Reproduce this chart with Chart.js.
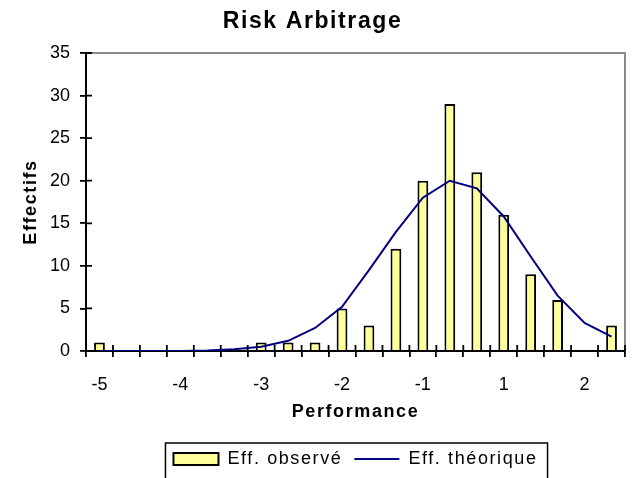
<!DOCTYPE html>
<html>
<head>
<meta charset="utf-8">
<script src="https://cdn.jsdelivr.net/npm/chart.js@4.4.1/dist/chart.umd.min.js"></script>
<style>
  html, body { margin: 0; padding: 0; background: #fff; }
  #wrap { width: 635px; height: 478px; }
</style>
</head>
<body>
<div id="wrap"><canvas id="chart"></canvas></div>
<script>
// Histogram of "Risk Arbitrage" performances: observed counts (bars) vs
// fitted normal counts (line). Only every third bin carries a label.
const categories = ['-5', '', '', '-4', '', '', '-3', '', '', '-2', '', '', '-1', '', '', '1', '', '', '2', ''];
const observed = [1, 0, 0, 0, 0, 0, 1, 1, 1, 5, 3, 12, 20, 29, 21, 16, 9, 6, 0, 3];
const theoretical = [0, 0, 0, 0, 0.05, 0.2, 0.5, 1.2, 2.7, 5.2, 9.5, 14, 18, 20, 19.1, 15.8, 11.1, 6.5, 3.3, 1.7];

const FONT = '"Liberation Sans", Arial, sans-serif';
const TICK = 6;

// Excel-ish wide text: letter spacing for titles/legend, none for tick labels
const spacing = {
  id: 'spacing',
  beforeUpdate(chart){ chart.ctx.letterSpacing = '1.6px'; },
  beforeDraw(chart){ chart.ctx.letterSpacing = '1.6px'; },
  afterDatasetsDraw(chart){ chart.ctx.letterSpacing = '0px'; }
};

// gray plot frame (top/right), inner half of the crossing ticks, legend box
const frame = {
  id: 'frame',
  beforeDatasetsDraw(chart){
    const {ctx, chartArea: a} = chart;
    const x = chart.scales.x, y = chart.scales.y;
    ctx.save();
    ctx.strokeStyle = '#8c8c8c';
    ctx.lineWidth = 2;
    ctx.beginPath();
    ctx.moveTo(a.left, a.top);
    ctx.lineTo(a.right, a.top);
    ctx.lineTo(a.right, a.bottom);
    ctx.stroke();

    ctx.strokeStyle = '#000';
    ctx.lineWidth = 1.8;
    ctx.beginPath();
    const n = categories.length;
    for(let i = 0; i <= n; i++){
      const px = i === 0 ? x.left : i === n ? x.right
        : (x.getPixelForValue(i - 1) + x.getPixelForValue(i)) / 2;
      ctx.moveTo(px, a.bottom);
      ctx.lineTo(px, a.bottom - TICK);
    }
    y.ticks.forEach(t => {
      const py = y.getPixelForValue(t.value);
      ctx.moveTo(a.left, py);
      ctx.lineTo(a.left + TICK, py);
    });
    ctx.stroke();
    ctx.restore();
  },
  afterDraw(chart){
    const hb = chart.legend && chart.legend.legendHitBoxes;
    if(!hb || !hb.length) return;
    const ctx = chart.ctx;
    const l = Math.min(...hb.map(h => h.left)) - 8;
    const r = Math.max(...hb.map(h => h.left + h.width)) + 10;
    const t = hb[0].top - 7;
    ctx.save();
    ctx.strokeStyle = '#000';
    ctx.lineWidth = 1.5;
    ctx.strokeRect(l, t, r - l, chart.height - t + 6);
    ctx.restore();
  }
};

new Chart(document.getElementById('chart'), {
  data: {
    labels: categories,
    datasets: [
      {
        type: 'bar',
        label: 'Eff. observé',
        data: observed,
        backgroundColor: '#ffff99',
        borderColor: '#000',
        borderWidth: 2,
        barPercentage: 0.4,
        categoryPercentage: 1,
        pointStyle: 'rect',
        order: 2
      },
      {
        type: 'line',
        label: 'Eff. théorique',
        data: theoretical,
        borderColor: '#000080',
        borderWidth: 2,
        pointRadius: 0,
        pointBorderWidth: 2,
        pointStyle: 'line',
        tension: 0,
        order: 1
      }
    ]
  },
  options: {
    responsive: true,
    maintainAspectRatio: false,
    animation: false,
    layout: { padding: { left: 0, right: 10, top: 0, bottom: 0 } },
    plugins: {
      tooltip: { enabled: false },
      title: {
        display: true,
        text: 'Risk Arbitrage',
        color: '#000',
        font: { family: FONT, size: 23, weight: 'bold' },
        padding: { top: 8, bottom: 17.4 }
      },
      legend: {
        position: 'bottom',
        fullSize: false,
        labels: {
          color: '#000',
          font: { family: FONT, size: 18 },
          usePointStyle: true,
          pointStyleWidth: 45,
          boxHeight: 12,
          padding: 12,
          sort: (a, b) => a.datasetIndex - b.datasetIndex
        }
      }
    },
    scales: {
      x: {
        offset: true,
        grid: { offset: true, drawOnChartArea: false, drawTicks: true, tickLength: TICK, color: '#000', lineWidth: 1.8 },
        border: { display: true, color: '#000', width: 2 },
        ticks: { autoSkip: false, maxRotation: 0, color: '#000', padding: 17, z: 1, font: { family: FONT, size: 18 } },
        title: { display: true, text: 'Performance', color: '#000', font: { family: FONT, size: 18, weight: 'bold' }, padding: { top: 0, bottom: 15 } },
        afterFit(s){ s.height = 87; }
      },
      y: {
        min: 0,
        max: 35,
        grid: { drawOnChartArea: false, drawTicks: true, tickLength: TICK, color: '#000', lineWidth: 1.8 },
        border: { display: true, color: '#000', width: 2 },
        ticks: { stepSize: 5, color: '#000', padding: 10, z: 1, font: { family: FONT, size: 18 } },
        title: { display: true, text: 'Effectifs', color: '#000', font: { family: FONT, size: 18, weight: 'bold' }, padding: { top: 20, bottom: 0 } },
        afterFit(s){ s.width = 86; }
      }
    }
  },
  plugins: [spacing, frame]
});
</script>
</body>
</html>
